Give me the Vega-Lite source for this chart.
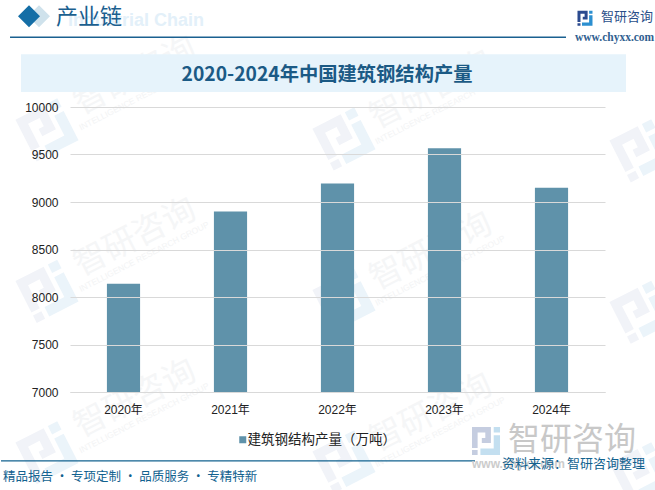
{
  "$schema": "https://vega.github.io/schema/vega-lite/v6.json",
  "autosize": "none",
  "padding": {"left": 70, "top": 107, "right": 50, "bottom": 98},
  "width": 535,
  "height": 285,
  "background": "white",
  "layer": [
    {
      "data": {"values": [{"n": 1}]},
      "layer": [
        {"encoding": {
          "x": {"datum": -0.043, "type": "quantitative", "scale": {"domain": [0, 1]}, "axis": null},
          "y": {"datum": 0.9196, "type": "quantitative", "scale": {"domain": [0, 1]}, "axis": null}},
          "layer": [
            {"mark": {"type": "point", "shape": "M-1,-1H0.35V0.15H-0.3V-0.2H-0.05V-0.6H-0.6V0.5H-1ZM-1,0.65H-0.6V1H-1Z", "filled": true, "opacity": 1, "size": 2200, "angle": 333, "color": "#f1f3f8"}},
            {"mark": {"type": "point", "shape": "M0.55,-1H1V-0.6H0.55ZM0.55,-0.4H1V1H-0.4V0.55H0.55Z", "filled": true, "opacity": 1, "size": 2200, "angle": 333, "color": "#ebf4fa"}}
          ]},
        {"encoding": {
          "x": {"datum": -0.043, "type": "quantitative", "scale": {"domain": [0, 1]}, "axis": null},
          "y": {"datum": 0.3531, "type": "quantitative", "scale": {"domain": [0, 1]}, "axis": null}},
          "layer": [
            {"mark": {"type": "point", "shape": "M-1,-1H0.35V0.15H-0.3V-0.2H-0.05V-0.6H-0.6V0.5H-1ZM-1,0.65H-0.6V1H-1Z", "filled": true, "opacity": 1, "size": 2200, "angle": 333, "color": "#f1f3f8"}},
            {"mark": {"type": "point", "shape": "M0.55,-1H1V-0.6H0.55ZM0.55,-0.4H1V1H-0.4V0.55H0.55Z", "filled": true, "opacity": 1, "size": 2200, "angle": 333, "color": "#ebf4fa"}}
          ]},
        {"encoding": {
          "x": {"datum": -0.043, "type": "quantitative", "scale": {"domain": [0, 1]}, "axis": null},
          "y": {"datum": -0.2133, "type": "quantitative", "scale": {"domain": [0, 1]}, "axis": null}},
          "layer": [
            {"mark": {"type": "point", "shape": "M-1,-1H0.35V0.15H-0.3V-0.2H-0.05V-0.6H-0.6V0.5H-1ZM-1,0.65H-0.6V1H-1Z", "filled": true, "opacity": 1, "size": 2200, "angle": 333, "color": "#f1f3f8"}},
            {"mark": {"type": "point", "shape": "M0.55,-1H1V-0.6H0.55ZM0.55,-0.4H1V1H-0.4V0.55H0.55Z", "filled": true, "opacity": 1, "size": 2200, "angle": 333, "color": "#ebf4fa"}}
          ]},
        {"encoding": {
          "x": {"datum": 0.5121, "type": "quantitative", "scale": {"domain": [0, 1]}, "axis": null},
          "y": {"datum": 0.8881, "type": "quantitative", "scale": {"domain": [0, 1]}, "axis": null}},
          "layer": [
            {"mark": {"type": "point", "shape": "M-1,-1H0.35V0.15H-0.3V-0.2H-0.05V-0.6H-0.6V0.5H-1ZM-1,0.65H-0.6V1H-1Z", "filled": true, "opacity": 1, "size": 2200, "angle": 333, "color": "#f1f3f8"}},
            {"mark": {"type": "point", "shape": "M0.55,-1H1V-0.6H0.55ZM0.55,-0.4H1V1H-0.4V0.55H0.55Z", "filled": true, "opacity": 1, "size": 2200, "angle": 333, "color": "#ebf4fa"}}
          ]},
        {"encoding": {
          "x": {"datum": 0.5121, "type": "quantitative", "scale": {"domain": [0, 1]}, "axis": null},
          "y": {"datum": 0.3217, "type": "quantitative", "scale": {"domain": [0, 1]}, "axis": null}},
          "layer": [
            {"mark": {"type": "point", "shape": "M-1,-1H0.35V0.15H-0.3V-0.2H-0.05V-0.6H-0.6V0.5H-1ZM-1,0.65H-0.6V1H-1Z", "filled": true, "opacity": 1, "size": 2200, "angle": 333, "color": "#f1f3f8"}},
            {"mark": {"type": "point", "shape": "M0.55,-1H1V-0.6H0.55ZM0.55,-0.4H1V1H-0.4V0.55H0.55Z", "filled": true, "opacity": 1, "size": 2200, "angle": 333, "color": "#ebf4fa"}}
          ]},
        {"encoding": {
          "x": {"datum": 0.5121, "type": "quantitative", "scale": {"domain": [0, 1]}, "axis": null},
          "y": {"datum": -0.2448, "type": "quantitative", "scale": {"domain": [0, 1]}, "axis": null}},
          "layer": [
            {"mark": {"type": "point", "shape": "M-1,-1H0.35V0.15H-0.3V-0.2H-0.05V-0.6H-0.6V0.5H-1ZM-1,0.65H-0.6V1H-1Z", "filled": true, "opacity": 1, "size": 2200, "angle": 333, "color": "#f1f3f8"}},
            {"mark": {"type": "point", "shape": "M0.55,-1H1V-0.6H0.55ZM0.55,-0.4H1V1H-0.4V0.55H0.55Z", "filled": true, "opacity": 1, "size": 2200, "angle": 333, "color": "#ebf4fa"}}
          ]},
        {"encoding": {
          "x": {"datum": 1.0673, "type": "quantitative", "scale": {"domain": [0, 1]}, "axis": null},
          "y": {"datum": 0.8462, "type": "quantitative", "scale": {"domain": [0, 1]}, "axis": null}},
          "layer": [
            {"mark": {"type": "point", "shape": "M-1,-1H0.35V0.15H-0.3V-0.2H-0.05V-0.6H-0.6V0.5H-1ZM-1,0.65H-0.6V1H-1Z", "filled": true, "opacity": 1, "size": 2200, "angle": 333, "color": "#f1f3f8"}},
            {"mark": {"type": "point", "shape": "M0.55,-1H1V-0.6H0.55ZM0.55,-0.4H1V1H-0.4V0.55H0.55Z", "filled": true, "opacity": 1, "size": 2200, "angle": 333, "color": "#ebf4fa"}}
          ]},
        {"encoding": {
          "x": {"datum": 1.0673, "type": "quantitative", "scale": {"domain": [0, 1]}, "axis": null},
          "y": {"datum": 0.2797, "type": "quantitative", "scale": {"domain": [0, 1]}, "axis": null}},
          "layer": [
            {"mark": {"type": "point", "shape": "M-1,-1H0.35V0.15H-0.3V-0.2H-0.05V-0.6H-0.6V0.5H-1ZM-1,0.65H-0.6V1H-1Z", "filled": true, "opacity": 1, "size": 2200, "angle": 333, "color": "#f1f3f8"}},
            {"mark": {"type": "point", "shape": "M0.55,-1H1V-0.6H0.55ZM0.55,-0.4H1V1H-0.4V0.55H0.55Z", "filled": true, "opacity": 1, "size": 2200, "angle": 333, "color": "#ebf4fa"}}
          ]},
        {"encoding": {
          "x": {"datum": 1.0673, "type": "quantitative", "scale": {"domain": [0, 1]}, "axis": null},
          "y": {"datum": -0.2867, "type": "quantitative", "scale": {"domain": [0, 1]}, "axis": null}},
          "layer": [
            {"mark": {"type": "point", "shape": "M-1,-1H0.35V0.15H-0.3V-0.2H-0.05V-0.6H-0.6V0.5H-1ZM-1,0.65H-0.6V1H-1Z", "filled": true, "opacity": 1, "size": 2200, "angle": 333, "color": "#f1f3f8"}},
            {"mark": {"type": "point", "shape": "M0.55,-1H1V-0.6H0.55ZM0.55,-0.4H1V1H-0.4V0.55H0.55Z", "filled": true, "opacity": 1, "size": 2200, "angle": 333, "color": "#ebf4fa"}}
          ]},
        {"mark": {"type": "text", "text": "智研咨询", "font": "Noto Sans CJK SC", "fontSize": 33, "angle": 333, "color": "#f5f6f7"}, "encoding": {
          "x": {"datum": 0.1215, "type": "quantitative", "scale": {"domain": [0, 1]}, "axis": null},
          "y": {"datum": 1.1084, "type": "quantitative", "scale": {"domain": [0, 1]}, "axis": null}}},
        {"mark": {"type": "text", "text": "智研咨询", "font": "Noto Sans CJK SC", "fontSize": 33, "angle": 333, "color": "#f5f6f7"}, "encoding": {
          "x": {"datum": 0.1215, "type": "quantitative", "scale": {"domain": [0, 1]}, "axis": null},
          "y": {"datum": 0.542, "type": "quantitative", "scale": {"domain": [0, 1]}, "axis": null}}},
        {"mark": {"type": "text", "text": "智研咨询", "font": "Noto Sans CJK SC", "fontSize": 33, "angle": 333, "color": "#f5f6f7"}, "encoding": {
          "x": {"datum": 0.1215, "type": "quantitative", "scale": {"domain": [0, 1]}, "axis": null},
          "y": {"datum": -0.0245, "type": "quantitative", "scale": {"domain": [0, 1]}, "axis": null}}},
        {"mark": {"type": "text", "text": "智研咨询", "font": "Noto Sans CJK SC", "fontSize": 33, "angle": 333, "color": "#f5f6f7"}, "encoding": {
          "x": {"datum": 0.6748, "type": "quantitative", "scale": {"domain": [0, 1]}, "axis": null},
          "y": {"datum": 1.0594, "type": "quantitative", "scale": {"domain": [0, 1]}, "axis": null}}},
        {"mark": {"type": "text", "text": "智研咨询", "font": "Noto Sans CJK SC", "fontSize": 33, "angle": 333, "color": "#f5f6f7"}, "encoding": {
          "x": {"datum": 0.6748, "type": "quantitative", "scale": {"domain": [0, 1]}, "axis": null},
          "y": {"datum": 0.493, "type": "quantitative", "scale": {"domain": [0, 1]}, "axis": null}}},
        {"mark": {"type": "text", "text": "智研咨询", "font": "Noto Sans CJK SC", "fontSize": 33, "angle": 333, "color": "#f5f6f7"}, "encoding": {
          "x": {"datum": 0.6748, "type": "quantitative", "scale": {"domain": [0, 1]}, "axis": null},
          "y": {"datum": -0.0734, "type": "quantitative", "scale": {"domain": [0, 1]}, "axis": null}}},
        {"mark": {"type": "text", "text": "INTELLIGENCE RESEARCH GROUP", "font": "Liberation Sans", "fontSize": 8.5, "angle": 333, "color": "#f3f4f5"}, "encoding": {
          "x": {"datum": 0.1383, "type": "quantitative", "scale": {"domain": [0, 1]}, "axis": null},
          "y": {"datum": 1.042, "type": "quantitative", "scale": {"domain": [0, 1]}, "axis": null}}},
        {"mark": {"type": "text", "text": "INTELLIGENCE RESEARCH GROUP", "font": "Liberation Sans", "fontSize": 8.5, "angle": 333, "color": "#f3f4f5"}, "encoding": {
          "x": {"datum": 0.1383, "type": "quantitative", "scale": {"domain": [0, 1]}, "axis": null},
          "y": {"datum": 0.4755, "type": "quantitative", "scale": {"domain": [0, 1]}, "axis": null}}},
        {"mark": {"type": "text", "text": "INTELLIGENCE RESEARCH GROUP", "font": "Liberation Sans", "fontSize": 8.5, "angle": 333, "color": "#f3f4f5"}, "encoding": {
          "x": {"datum": 0.1383, "type": "quantitative", "scale": {"domain": [0, 1]}, "axis": null},
          "y": {"datum": -0.0909, "type": "quantitative", "scale": {"domain": [0, 1]}, "axis": null}}},
        {"mark": {"type": "text", "text": "INTELLIGENCE RESEARCH GROUP", "font": "Liberation Sans", "fontSize": 8.5, "angle": 333, "color": "#f3f4f5"}, "encoding": {
          "x": {"datum": 0.6916, "type": "quantitative", "scale": {"domain": [0, 1]}, "axis": null},
          "y": {"datum": 0.993, "type": "quantitative", "scale": {"domain": [0, 1]}, "axis": null}}},
        {"mark": {"type": "text", "text": "INTELLIGENCE RESEARCH GROUP", "font": "Liberation Sans", "fontSize": 8.5, "angle": 333, "color": "#f3f4f5"}, "encoding": {
          "x": {"datum": 0.6916, "type": "quantitative", "scale": {"domain": [0, 1]}, "axis": null},
          "y": {"datum": 0.4266, "type": "quantitative", "scale": {"domain": [0, 1]}, "axis": null}}},
        {"mark": {"type": "text", "text": "INTELLIGENCE RESEARCH GROUP", "font": "Liberation Sans", "fontSize": 8.5, "angle": 333, "color": "#f3f4f5"}, "encoding": {
          "x": {"datum": 0.6916, "type": "quantitative", "scale": {"domain": [0, 1]}, "axis": null},
          "y": {"datum": -0.1399, "type": "quantitative", "scale": {"domain": [0, 1]}, "axis": null}}},
        {"mark": {"type": "rect", "color": "#e6f3fb"}, "encoding": {
          "x": {"datum": -0.0916, "type": "quantitative", "scale": {"domain": [0, 1]}, "axis": null},
          "x2": {"datum": 1.0393},
          "y": {"datum": 1.1853, "type": "quantitative", "scale": {"domain": [0, 1]}, "axis": null},
          "y2": {"datum": 1.0524}}},
        {"mark": {"type": "text", "text": "2020-2024年中国建筑钢结构产量", "font": "Noto Sans CJK SC", "fontSize": 19.3, "fontWeight": "bold", "color": "#1b5a85"}, "encoding": {
          "x": {"datum": 0.4804, "type": "quantitative", "scale": {"domain": [0, 1]}, "axis": null},
          "y": {"datum": 1.1119, "type": "quantitative", "scale": {"domain": [0, 1]}, "axis": null}}},
        {"mark": {"type": "rule", "color": "#1a6090", "strokeWidth": 1.3}, "encoding": {
          "x": {"datum": -0.1121, "type": "quantitative", "scale": {"domain": [0, 1]}, "axis": null},
          "x2": {"datum": 0.9271},
          "y": {"datum": 1.2448, "type": "quantitative", "scale": {"domain": [0, 1]}, "axis": null}}},
        {"mark": {"type": "rule", "color": "#12628f", "strokeWidth": 1.3}, "encoding": {
          "x": {"datum": -0.129, "type": "quantitative", "scale": {"domain": [0, 1]}, "axis": null},
          "x2": {"datum": 0.757},
          "y": {"datum": -0.2415, "type": "quantitative", "scale": {"domain": [0, 1]}, "axis": null}}},
        {"mark": {"type": "point", "shape": "diamond", "filled": true, "size": 484, "opacity": 1, "color": "#cfe2ec"}, "encoding": {
          "x": {"datum": -0.0579, "type": "quantitative", "scale": {"domain": [0, 1]}, "axis": null},
          "y": {"datum": 1.318, "type": "quantitative", "scale": {"domain": [0, 1]}, "axis": null}}},
        {"mark": {"type": "point", "shape": "diamond", "filled": true, "size": 484, "opacity": 1, "color": "#146ea6"}, "encoding": {
          "x": {"datum": -0.0766, "type": "quantitative", "scale": {"domain": [0, 1]}, "axis": null},
          "y": {"datum": 1.318, "type": "quantitative", "scale": {"domain": [0, 1]}, "axis": null}}},
        {"mark": {"type": "text", "text": "Industrial Chain", "font": "Liberation Sans", "fontWeight": "bold", "fontSize": 18, "align": "left", "color": "#e3f0f9"}, "encoding": {
          "x": {"datum": -0.0037, "type": "quantitative", "scale": {"domain": [0, 1]}, "axis": null},
          "y": {"datum": 1.3007, "type": "quantitative", "scale": {"domain": [0, 1]}, "axis": null}}},
        {"mark": {"type": "text", "text": "产业链", "font": "Noto Sans CJK SC", "fontSize": 22, "align": "left", "color": "#1b5f8f"}, "encoding": {
          "x": {"datum": -0.0262, "type": "quantitative", "scale": {"domain": [0, 1]}, "axis": null},
          "y": {"datum": 1.3147, "type": "quantitative", "scale": {"domain": [0, 1]}, "axis": null}}},
        {"encoding": {
          "x": {"datum": 0.9626, "type": "quantitative", "scale": {"domain": [0, 1]}, "axis": null},
          "y": {"datum": 1.3112, "type": "quantitative", "scale": {"domain": [0, 1]}, "axis": null}},
          "layer": [
            {"mark": {"type": "point", "shape": "M-1,-1H0.35V0.15H-0.3V-0.2H-0.05V-0.6H-0.6V0.5H-1ZM-1,0.65H-0.6V1H-1Z", "filled": true, "opacity": 1, "size": 225, "color": "#2b4a8f"}},
            {"mark": {"type": "point", "shape": "M0.55,-1H1V-0.6H0.55ZM0.55,-0.4H1V1H-0.4V0.55H0.55Z", "filled": true, "opacity": 1, "size": 225, "color": "#2b8fd0"}}
          ]},
        {"mark": {"type": "text", "text": "智研咨询", "font": "Noto Sans CJK SC", "fontSize": 13, "align": "left", "color": "#2a4f8a"}, "encoding": {
          "x": {"datum": 0.9925, "type": "quantitative", "scale": {"domain": [0, 1]}, "axis": null},
          "y": {"datum": 1.3147, "type": "quantitative", "scale": {"domain": [0, 1]}, "axis": null}}},
        {"mark": {"type": "text", "text": "www.chyxx.com", "font": "Liberation Serif", "fontWeight": "bold", "fontSize": 11.5, "align": "left", "color": "#2f6090"}, "encoding": {
          "x": {"datum": 0.9439, "type": "quantitative", "scale": {"domain": [0, 1]}, "axis": null},
          "y": {"datum": 1.2413, "type": "quantitative", "scale": {"domain": [0, 1]}, "axis": null}}},
        {"encoding": {
          "x": {"datum": 0.7776, "type": "quantitative", "scale": {"domain": [0, 1]}, "axis": null},
          "y": {"datum": -0.1715, "type": "quantitative", "scale": {"domain": [0, 1]}, "axis": null}},
          "layer": [
            {"mark": {"type": "point", "shape": "M-1,-1H0.35V0.15H-0.3V-0.2H-0.05V-0.6H-0.6V0.5H-1ZM-1,0.65H-0.6V1H-1Z", "filled": true, "opacity": 1, "size": 784, "color": "#c5cde0"}},
            {"mark": {"type": "point", "shape": "M0.55,-1H1V-0.6H0.55ZM0.55,-0.4H1V1H-0.4V0.55H0.55Z", "filled": true, "opacity": 1, "size": 784, "color": "#c3dff0"}}
          ]},
        {"mark": {"type": "text", "text": "智研咨询", "font": "Noto Sans CJK SC", "fontSize": 32, "align": "left", "color": "#c8c8c8"}, "encoding": {
          "x": {"datum": 0.8187, "type": "quantitative", "scale": {"domain": [0, 1]}, "axis": null},
          "y": {"datum": -0.168, "type": "quantitative", "scale": {"domain": [0, 1]}, "axis": null}}},
        {"mark": {"type": "text", "text": "www.chyxx.com", "font": "Liberation Sans", "fontWeight": "bold", "fontSize": 12, "align": "left", "color": "#cccccc"}, "encoding": {
          "x": {"datum": 0.7514, "type": "quantitative", "scale": {"domain": [0, 1]}, "axis": null},
          "y": {"datum": -0.2515, "type": "quantitative", "scale": {"domain": [0, 1]}, "axis": null}}},
        {"mark": {"type": "text", "text": "资料来源：智研咨询整理", "font": "Noto Sans CJK SC", "fontSize": 13, "align": "right", "color": "#12628f"}, "encoding": {
          "x": {"datum": 1.0748, "type": "quantitative", "scale": {"domain": [0, 1]}, "axis": null},
          "y": {"datum": -0.2515, "type": "quantitative", "scale": {"domain": [0, 1]}, "axis": null}}},
        {"mark": {"type": "text", "text": "精品报告 · 专项定制 · 品质服务 · 专精特新", "font": "Noto Sans CJK SC", "fontSize": 12.5, "align": "left", "color": "#12628f"}, "encoding": {
          "x": {"datum": -0.1252, "type": "quantitative", "scale": {"domain": [0, 1]}, "axis": null},
          "y": {"datum": -0.2975, "type": "quantitative", "scale": {"domain": [0, 1]}, "axis": null}}}
      ]
    },
    {
      "data": {
        "values": [
          {"year": "2020年", "output": 8140, "series": "建筑钢结构产量（万吨）"},
          {"year": "2021年", "output": 8900, "series": "建筑钢结构产量（万吨）"},
          {"year": "2022年", "output": 9195, "series": "建筑钢结构产量（万吨）"},
          {"year": "2023年", "output": 9565, "series": "建筑钢结构产量（万吨）"},
          {"year": "2024年", "output": 9150, "series": "建筑钢结构产量（万吨）"}
        ]
      },
      "mark": {"type": "bar", "clip": true},
      "encoding": {
        "x": {
          "field": "year",
          "type": "nominal",
          "scale": {"paddingInner": 0.69, "paddingOuter": 0.345},
          "axis": {
            "title": null,
            "zindex": 1,
            "labelAngle": 0,
            "labelFont": "Liberation Sans, Noto Sans CJK SC",
            "labelFontSize": 12,
            "labelColor": "#222222",
            "labelPadding": 12,
            "ticks": false,
            "domainColor": "#d9d9d9"
          }
        },
        "y": {
          "field": "output",
          "type": "quantitative",
          "scale": {"domain": [7000, 10000], "zero": false},
          "axis": {
            "title": null,
            "zindex": 1,
            "values": [7000, 7500, 8000, 8500, 9000, 9500, 10000],
            "format": "d",
            "labelFont": "Liberation Sans",
            "labelFontSize": 12,
            "labelColor": "#222222",
            "labelPadding": 12,
            "ticks": false,
            "domain": false,
            "grid": true,
            "gridColor": "#d9d9d9"
          }
        },
        "color": {
          "field": "series",
          "type": "nominal",
          "scale": {"range": ["#5f92aa"]},
          "legend": {
            "title": null,
            "orient": "none",
            "legendX": 166,
            "legendY": 326,
            "symbolType": "square",
            "symbolSize": 49,
            "labelFont": "Noto Sans CJK SC",
            "labelFontSize": 13.5,
            "labelColor": "#222222",
            "labelOffset": -2,
            "labelLimit": 300
          }
        }
      }
    }
  ],
  "resolve": {"scale": {"x": "independent", "y": "independent"}},
  "config": {"view": {"stroke": null}}
}
